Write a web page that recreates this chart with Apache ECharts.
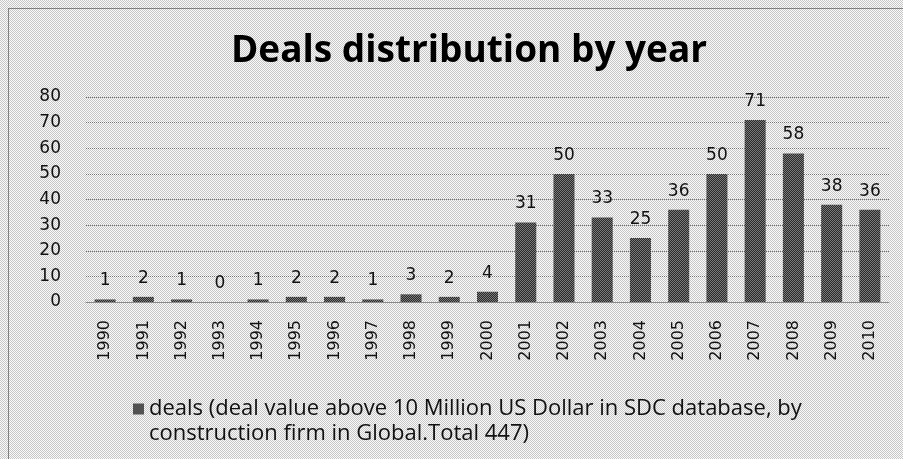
<!DOCTYPE html>
<html>
<head>
<meta charset="utf-8">
<script src="https://cdn.jsdelivr.net/npm/echarts@6/dist/echarts.min.js"></script>
<style>html,body{margin:0;padding:0;}#c{width:903px;height:459px;}</style>
</head>
<body>
<div id="c"></div>
<script>
const years = ['1990','1991','1992','1993','1994','1995','1996','1997','1998','1999','2000','2001','2002','2003','2004','2005','2006','2007','2008','2009','2010'];
const deals = [1,2,1,0,1,2,2,1,3,2,4,31,50,33,25,36,50,71,58,38,36];
const yTicks = {min:0, max:80, interval:10};
const titleText = 'Deals distribution by year';
const seriesName = 'deals (deal value above 10 Million US Dollar in SDC database, by';
const seriesName2 = 'construction firm in Global.Total 447)';

function pat(c1, c2) {
  const cv = document.createElement('canvas');
  cv.width = 2; cv.height = 2;
  const g = cv.getContext('2d');
  g.fillStyle = c1; g.fillRect(0,0,2,2);
  g.fillStyle = c2; g.fillRect(0,0,1,1); g.fillRect(1,1,1,1);
  return {image: cv, repeat: 'repeat'};
}

const chart = echarts.init(document.getElementById('c'), null, {renderer:'canvas'});
chart.setOption({
  animation: false,
  backgroundColor: pat('#fafafa', '#c6c6c6'),
  title: {
    text: titleText,
    left: 464, top: 28, textAlign: 'center',
    textStyle: {fontFamily: 'Open Sans', fontWeight: 'bold', fontSize: 37, color: '#000'}
  },
  legend: {
    left: 128, top: 392,
    itemWidth: 11, itemHeight: 11, itemGap: 10,
    icon: 'rect',
    data: [seriesName],
    textStyle: {fontFamily: 'Open Sans', fontSize: 22, color: '#111', lineHeight: 24}
  },
  grid: {left: 86, right: 14, top: 97, bottom: 157, containLabel: false},
  xAxis: {
    type: 'category', data: years,
    axisLine: {lineStyle: {color: '#8a8a8a', width: 1}},
    axisTick: {show: false},
    axisLabel: {rotate: 90, margin: 18, fontFamily: 'DejaVu Sans', fontSize: 16, color: '#111', interval: 0}
  },
  yAxis: {
    type: 'value', min: yTicks.min, max: yTicks.max, interval: yTicks.interval,
    axisLine: {show: false}, axisTick: {show: false},
    axisLabel: {margin: 25, fontFamily: 'DejaVu Sans', fontSize: 17, color: '#111'},
    splitLine: {lineStyle: {color: '#707070', type: [1,1], width: 1}}
  },
  series: [{
    name: seriesName, type: 'bar', data: deals,
    barWidth: '55%',
    itemStyle: {color: pat('#2a2a2a', '#7a7a7a')},
    label: {show: true, position: 'top', distance: 10, fontFamily: 'DejaVu Sans', fontSize: 17, color: '#111'}
  }],
  graphic: [{
    type: 'rect', silent: true, z: 100,
    shape: {x: 8.5, y: 8.5, width: 1000, height: 1000},
    style: {fill: 'none', stroke: '#222', lineWidth: 1, lineDash: [1,1]}
  }, {
    type: 'text', silent: true, left: 149, top: 423,
    style: {text: seriesName2, font: '22px "Open Sans"', fill: '#111'}
  }]
});
</script>
</body>
</html>
